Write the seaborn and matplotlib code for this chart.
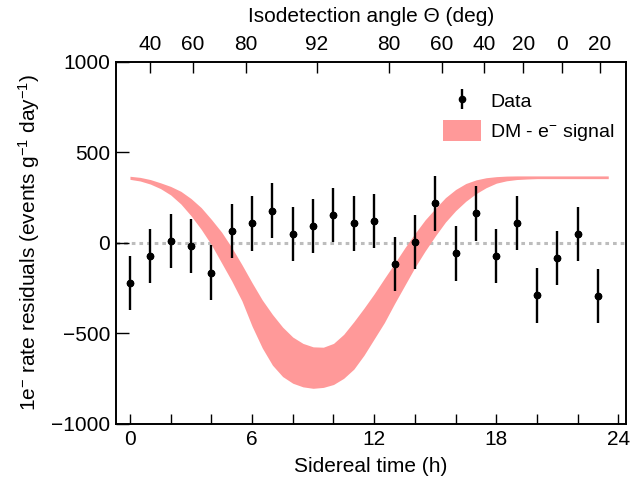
import numpy as np
import pandas as pd
import matplotlib
matplotlib.use("Agg")
import matplotlib.pyplot as plt
import seaborn as sns
from matplotlib.patches import Patch

# ---- data ----
hours = [0, 1, 2, 3, 4, 5, 6, 7, 8, 9, 10, 11, 12, 13, 14, 15, 16, 17, 18, 19, 20, 21, 22, 23]
residuals = [-223, -71, 10, -16, -165, 65, 108, 177, 50, 95, 154, 108, 121, -117, 6, 218,
             -58, 163, -71, 111, -290, -84, 50, -292]
errors = [150, 150, 150, 150, 152, 150, 150, 152, 150, 150, 150, 150, 150, 150, 150, 153,
          150, 150, 150, 150, 150, 150, 150, 150]

band_hours = [0, 0.5, 1, 1.5, 2, 2.5, 3, 3.5, 4, 4.5, 5, 5.5, 6, 6.5, 7, 7.5, 8, 8.5, 9, 9.5,
              10, 10.5, 11, 11.5, 12, 12.5, 13, 13.5, 14, 14.5, 15, 15.5, 16, 16.5, 17, 17.5,
              18, 18.5, 19, 19.5, 20, 20.5, 21, 21.5, 22, 22.5, 23, 23.5]
band_upper = [368, 362, 350, 332, 312, 285, 245, 195, 130, 60, -25, -120, -220, -315, -395,
              -465, -520, -555, -574, -576, -555, -505, -435, -360, -281, -196, -113, -28,
              52, 127, 190, 250, 295, 328, 348, 360, 366, 369, 370, 370, 370, 370, 370, 370,
              370, 370, 370, 370]
band_lower = [351, 342, 325, 300, 265, 215, 150, 75, -10, -110, -210, -320, -460, -580, -675,
              -738, -775, -795, -803, -798, -782, -748, -697, -620, -530, -440, -335, -235,
              -135, -45, 38, 115, 178, 230, 272, 305, 330, 343, 350, 353, 355, 355, 355, 355,
              355, 355, 355, 355]

x_ticks = [0, 6, 12, 18, 24]
x_minor = [2, 4, 8, 10, 14, 16, 20, 22]
y_ticks = [-1000, -500, 0, 500, 1000]
top_tick_hours = [0.98, 3.08, 5.69, 9.17, 12.73, 15.32, 17.41, 19.33, 21.21, 23.1]
top_tick_labels = ["40", "60", "80", "92", "80", "60", "40", "20", "0", "20"]

df = pd.DataFrame({"hour": hours, "residual": residuals, "err": errors})

# ---- style ----
sns.set_theme(style="white")
plt.rcParams["font.family"] = ["Liberation Sans", "DejaVu Sans"]
plt.rcParams["mathtext.fontset"] = "custom"
plt.rcParams["mathtext.rm"] = "Liberation Sans"
plt.rcParams["mathtext.it"] = "Liberation Sans:italic"
plt.rcParams["mathtext.bf"] = "Liberation Sans:bold"
for k in ["text.color", "axes.labelcolor", "xtick.color", "ytick.color", "xtick.labelcolor",
          "ytick.labelcolor"]:
    plt.rcParams[k] = "black"

fig = plt.figure(figsize=(6.44, 4.87), dpi=100)
ax = fig.add_axes([0.180, 0.1294, 0.792, 0.7436])

band_color = "#FF9999"
ax.fill_between(band_hours, band_lower, band_upper, color=band_color, lw=0, zorder=1)
ax.axhline(0, color="#BDBDBD", lw=2.2, ls=(0, (1.2, 1.3)), zorder=0.5)

eb = ax.errorbar(df["hour"], df["residual"], yerr=df["err"], fmt="o", color="black",
                 ms=4.5, elinewidth=1.7, capsize=0, zorder=3)
sns.scatterplot(data=df, x="hour", y="residual", color="black", s=28, edgecolor="black",
                linewidth=0, zorder=4, ax=ax, legend=False)

ax.set_xlim(-0.69, 24.37)
ax.set_ylim(-1000, 1000)
ax.set_xticks(x_ticks)
ax.set_xticks(x_minor, minor=True)
ax.set_yticks(y_ticks)
ax.tick_params(axis="x", which="both", direction="in", length=7, width=1.0,
               labelsize=15, pad=4, color="black", bottom=True, top=False)
ax.tick_params(axis="y", which="both", direction="in", length=9, width=1.0,
               labelsize=15, pad=4, color="black", left=True, right=False)
for s in ax.spines.values():
    s.set_color("black")
    s.set_linewidth(1.2)

ax.set_xlabel("Sidereal time (h)", fontsize=15, labelpad=6)
ax.set_ylabel(r"1e$^{-}$ rate residuals (events g$^{-1}$ day$^{-1}$)", fontsize=15,
              labelpad=7)

# top axis
axt = ax.twiny()
axt.set_xlim(ax.get_xlim())
axt.set_xticks(top_tick_hours)
axt.set_xticklabels(top_tick_labels)
axt.tick_params(axis="x", direction="in", length=8, width=1.0, labelsize=15, pad=6,
                color="black")
axt.set_xlabel("Isodetection angle \u0398 (deg)", fontsize=15, labelpad=9)
for s in axt.spines.values():
    s.set_color("black")
    s.set_linewidth(1.2)

handles = [eb, Patch(facecolor=band_color, edgecolor="none")]
labels = ["Data", r"DM - e$^{-}$ signal"]
ax.legend(handles, labels, loc="upper left", bbox_to_anchor=(0.66, 0.85),
          bbox_transform=fig.transFigure, frameon=False, fontsize=14,
          handlelength=2.0, handleheight=1.25, handletextpad=0.45, labelspacing=0.45)

fig.savefig("out.png", dpi=100)
